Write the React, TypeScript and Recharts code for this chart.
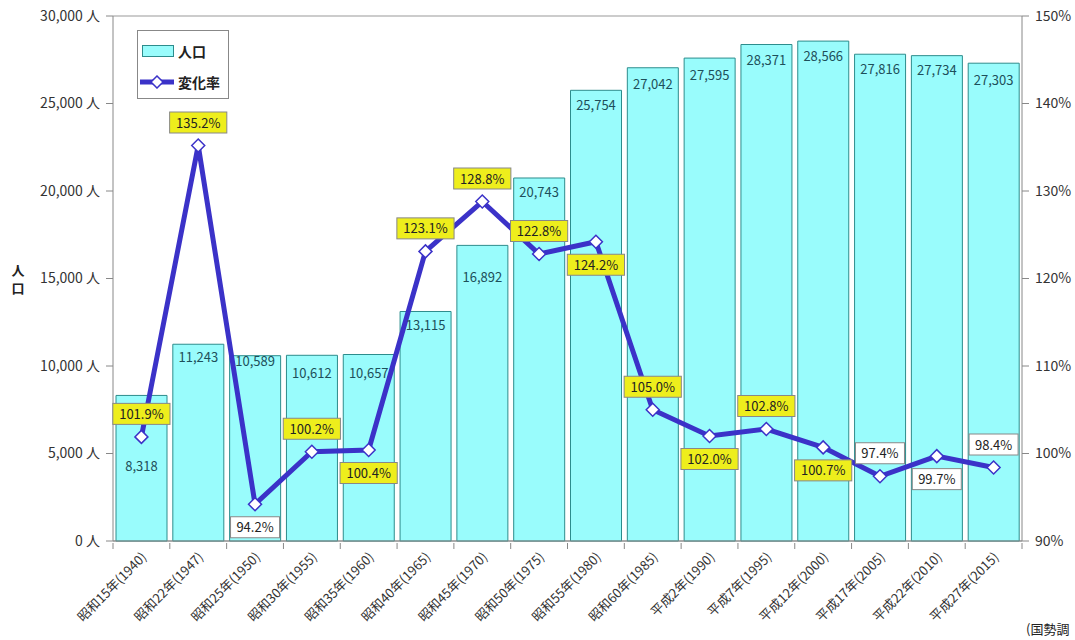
import React from 'react';
import { ComposedChart, Bar, Line, XAxis, YAxis, CartesianGrid, LabelList } from 'recharts';

const years = [
  '昭和15年(1940)', '昭和22年(1947)', '昭和25年(1950)', '昭和30年(1955)',
  '昭和35年(1960)', '昭和40年(1965)', '昭和45年(1970)', '昭和50年(1975)',
  '昭和55年(1980)', '昭和60年(1985)', '平成2年(1990)', '平成7年(1995)',
  '平成12年(2000)', '平成17年(2005)', '平成22年(2010)', '平成27年(2015)',
];
const population = [8318, 11243, 10589, 10612, 10657, 13115, 16892, 20743, 25754, 27042, 27595, 28371, 28566, 27816, 27734, 27303];
const changeRate = [101.9, 135.2, 94.2, 100.2, 100.4, 123.1, 128.8, 122.8, 124.2, 105.0, 102.0, 102.8, 100.7, 97.4, 99.7, 98.4];
const popTicks = [0, 5000, 10000, 15000, 20000, 25000, 30000];
const rateTicks = [90, 100, 110, 120, 130, 140, 150];

const data = years.map((year, i) => ({ year, pop: population[i], rate: changeRate[i] }));

const FONT = '"Noto Sans CJK JP", "Noto Sans", sans-serif';
const BLUE = '#3b32c8';
const CYAN = '#99fcfc';
const TEAL = '#2d8c8c';

// where each rate label sits relative to its point (1 = above, -1 = below)
const rateSide = [1, 1, -1, 1, -1, 1, 1, 1, -1, 1, -1, 1, -1, 1, -1, 1];
// distance of population label below the bar top
const popLabelDy = [71, 13, 5, 18, 18, 14, 32, 14, 15, 16, 17, 15, 15, 15, 14, 17];

const RateLabel = (props: any) => {
  const { x, y, value, index } = props;
  const text = `${Number(value).toFixed(1)}%`;
  const w = text.length * 8.2 + 8;
  const h = 21;
  const cy = y - rateSide[index] * 23;
  const fill = value >= 100 ? '#eeee1c' : '#ffffff';
  return (
    <g>
      <rect x={x - w / 2} y={cy - h / 2} width={w} height={h} fill={fill} stroke="#888" strokeWidth={1} />
      <text x={x} y={cy + 5} textAnchor="middle" fontSize={13} fill="#222" fontFamily={FONT}>{text}</text>
    </g>
  );
};

const PopLabel = (props: any) => {
  const { x, y, width, value, index } = props;
  return (
    <text x={x + width / 2} y={y + popLabelDy[index] + 5} textAnchor="middle" fontSize={13} fill="#1d4f5a" fontFamily={FONT}>
      {Number(value).toLocaleString('en-US')}
    </text>
  );
};

const Diamond = (props: any) => {
  const { cx, cy, index } = props;
  const r = 6.5;
  return (
    <path
      key={`d-${index}`}
      d={`M${cx},${cy - r} L${cx + r},${cy} L${cx},${cy + r} L${cx - r},${cy} Z`}
      fill="#fff"
      stroke={BLUE}
      strokeWidth={1.5}
    />
  );
};

const XTick = (props: any) => {
  const { x, y, payload, index } = props;
  const half = payload.offset || 909 / 16 / 2;
  return (
    <g>
      <line x1={x - half} y1={y} x2={x - half} y2={y + 6} stroke="#888" />
      {index === years.length - 1 && <line x1={x + half} y1={y} x2={x + half} y2={y + 6} stroke="#888" />}
      <text
        x={x + 6}
        y={y + 15}
        textAnchor="end"
        fontSize={13}
        fill="#333"
        fontFamily={FONT}
        transform={`rotate(-45, ${x + 6}, ${y + 15})`}
      >
        {payload.value}
      </text>
    </g>
  );
};

const AxisTitle = () => (
  <g fontSize={13} fontWeight="bold" fill="#222" fontFamily={FONT}>
    <text x={18} y={275} textAnchor="middle">人</text>
    <text x={18} y={293} textAnchor="middle">口</text>
  </g>
);

export default function App() {
  return (
    <div style={{ position: 'absolute', left: 0, top: 0, width: 1075, height: 640, background: '#fff' }}>
      <ComposedChart
        width={1075}
        height={640}
        data={data}
        margin={{ top: 16, right: 0, bottom: 0, left: 0 }}
        barCategoryGap={3}
      >
        <CartesianGrid vertical={false} stroke="#999" />
        <XAxis
          dataKey="year"
          height={99}
          interval={0}
          tickSize={0}
          tickLine={false}
          axisLine={{ stroke: '#888' }}
          tick={<XTick />}
        />
        <YAxis
          yAxisId="pop"
          width={113}
          domain={[0, 30000]}
          ticks={popTicks}
          tickSize={7}
          tickMargin={6}
          stroke="#888"
          tick={{ fill: '#333', fontSize: 14, fontFamily: FONT }}
          tickFormatter={(v: number) => `${v.toLocaleString('en-US')} 人`}
          label={{ content: <AxisTitle /> }}
        />
        <YAxis
          yAxisId="rate"
          orientation="right"
          width={53}
          domain={[90, 150]}
          ticks={rateTicks}
          tickSize={7}
          tickMargin={6}
          stroke="#888"
          tick={{ fill: '#333', fontSize: 14, fontFamily: FONT }}
          tickFormatter={(v: number) => `${v}%`}
        />
        <Bar yAxisId="pop" dataKey="pop" fill={CYAN} stroke={TEAL} strokeWidth={1} isAnimationActive={false}>
          <LabelList dataKey="pop" content={<PopLabel />} />
        </Bar>
        <Line
          yAxisId="rate"
          dataKey="rate"
          stroke={BLUE}
          strokeWidth={5}
          dot={<Diamond />}
          activeDot={false}
          isAnimationActive={false}
        >
          <LabelList dataKey="rate" content={<RateLabel />} />
        </Line>
        {/* source note, cut at the page edge in the original */}
        <text x={1026} y={634} fontSize={13} fill="#222" fontFamily={FONT}>(国勢調</text>
      </ComposedChart>
      <div
        style={{
          position: 'absolute', left: 137, top: 30, width: 90, height: 67,
          border: '1px solid #888', background: '#fff', fontFamily: FONT,
          fontSize: 14, fontWeight: 'bold', color: '#222',
        }}
      >
        <div style={{ position: 'absolute', left: 4, top: 10, display: 'flex', alignItems: 'center' }}>
          <div style={{ width: 30, height: 10, background: CYAN, border: `1px solid ${TEAL}`, marginRight: 4 }} />
          <span>人口</span>
        </div>
        <div style={{ position: 'absolute', left: 2, top: 41, display: 'flex', alignItems: 'center' }}>
          <svg width={34} height={14} style={{ marginRight: 4 }}>
            <line x1={0} y1={7} x2={34} y2={7} stroke={BLUE} strokeWidth={5} />
            <path d="M17,1 L23,7 L17,13 L11,7 Z" fill="#fff" stroke={BLUE} strokeWidth={1.5} />
          </svg>
          <span>変化率</span>
        </div>
      </div>
    </div>
  );
}
